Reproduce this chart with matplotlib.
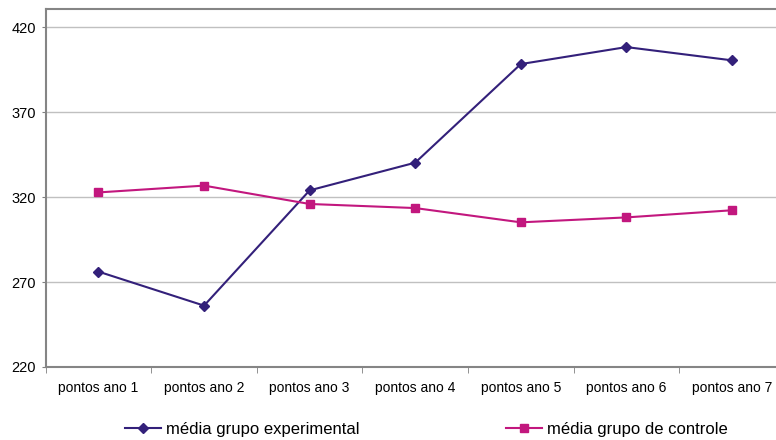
import matplotlib.pyplot as plt
import numpy as np

plt.rcParams['font.family'] = ['Liberation Sans', 'DejaVu Sans']

categorias = ["pontos ano 1", "pontos ano 2", "pontos ano 3", "pontos ano 4",
              "pontos ano 5", "pontos ano 6", "pontos ano 7"]
experimental = [276.1, 256.1, 323.9, 340.2, 398.2, 408.2, 400.4]
controle = [322.7, 326.7, 315.9, 313.5, 305.1, 308.0, 312.2]
yticks = [220, 270, 320, 370, 420]

cor_exp = "#33207a"
cor_ctrl = "#c2177e"

fig = plt.figure(figsize=(7.76, 4.4), dpi=100)
# o gráfico original está cortado à direita
ax = fig.add_axes([45.7 / 776, 73 / 440, 739 / 776, 358 / 440])

x = np.arange(len(categorias))
ax.plot(x, experimental, color=cor_exp, lw=1.5, marker="D", ms=5,
        label="média grupo experimental")
ax.plot(x, controle, color=cor_ctrl, lw=1.5, marker="s", ms=6,
        label="média grupo de controle")

ax.set_xlim(-0.5, len(categorias) - 0.5)
ax.set_ylim(220, 430.6)
ax.set_yticks(yticks)
ax.set_yticklabels([str(v) for v in yticks], fontsize=10.5)
ax.yaxis.grid(True, color="#c0c0c0", lw=1)
ax.set_axisbelow(True)

# rótulos no centro das categorias, marcas entre elas
ax.set_xticks(x)
ax.set_xticklabels(categorias, fontsize=10)
ax.tick_params(axis="x", which="major", length=0, pad=10)
ax.set_xticks(np.arange(len(categorias) + 1) - 0.5, minor=True)
ax.tick_params(axis="x", which="minor", length=4, color="#808080", direction="out")
ax.tick_params(axis="y", length=3, color="#808080", pad=4)

for lado in ["left", "bottom", "top"]:
    ax.spines[lado].set_color("#858585")
    ax.spines[lado].set_linewidth(1.5)
ax.spines["right"].set_visible(False)

fig.legend(loc="center", bbox_to_anchor=(426 / 776, 11 / 440), ncol=2,
           frameon=False, fontsize=12, handlelength=2.2, handletextpad=0.25,
           columnspacing=8.8, borderpad=0, borderaxespad=0)

fig.savefig("out.png", dpi=100)
